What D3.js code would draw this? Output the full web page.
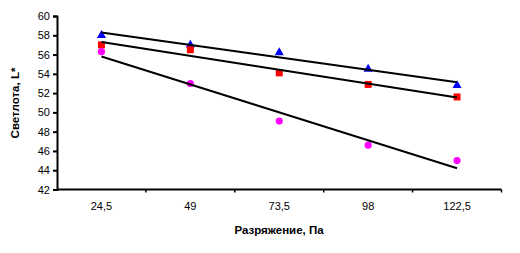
<!DOCTYPE html>
<html><head><meta charset="utf-8">
<script src="https://cdn.jsdelivr.net/npm/d3@7"></script>
<style>body{margin:0;background:#fff}svg{display:block}text{font-family:"Liberation Sans",Arial,sans-serif}</style>
</head><body><svg id="c" width="520" height="253"></svg>
<script>
const categories = ["24,5","49","73,5","98","122,5"];
const blueValues = [58.0, 57.0, 56.2, 54.5, 52.8];
const redValues = [57.0, 56.5, 54.1, 52.9, 51.6];
const magentaValues = [56.3, 53.0, 49.1, 46.6, 45.0];
const yTicks = [42,44,46,48,50,52,54,56,58,60];

const svg = d3.select("#c");
const x = d3.scaleBand().domain(categories).range([57, 501.5]);
const y = d3.scaleLinear().domain([42, 60]).range([189.5, 16]);

// axes
const yAxis = d3.axisLeft(y).tickValues(yTicks).tickSize(4).tickPadding(3);
const gy = svg.append("g").attr("transform","translate(57,0)").call(yAxis);
gy.select(".domain").attr("stroke","#000").attr("stroke-width",2);
gy.selectAll(".tick line").attr("stroke","#000").attr("stroke-width",2);
gy.selectAll("text").attr("font-size",11).attr("fill","#000");

const gx = svg.append("g").attr("transform","translate(0,189.5)");
gx.append("line").attr("x1",57).attr("x2",501.5).attr("y1",0).attr("y2",0).attr("stroke","#000").attr("stroke-width",2);
const bounds = categories.map(c => x(c)).concat([x.range()[1]]).slice(1);
gx.selectAll(".xt").data(bounds).enter().append("line")
  .attr("x1",d=>d).attr("x2",d=>d).attr("y1",0).attr("y2",3).attr("stroke","#000").attr("stroke-width",1.5);
gx.selectAll(".xl").data(categories).enter().append("text")
  .attr("x",d=>x(d)+x.bandwidth()/2).attr("y",20).attr("text-anchor","middle")
  .attr("font-size",11).attr("fill","#000").text(d=>d);

svg.append("text").attr("x",279).attr("y",234).attr("text-anchor","middle")
  .attr("font-size",11.5).attr("font-weight","bold").text("Разряжение, Па");
svg.append("text").attr("transform","translate(19,103) rotate(-90)").attr("text-anchor","middle")
  .attr("font-size",11.5).attr("font-weight","bold").text("Светлота, L*");

const cx = i => x(categories[i]) + x.bandwidth()/2;

function trend(vals){
  const n = vals.length, xs = vals.map((_,i)=>i+1);
  const mx = d3.mean(xs), my = d3.mean(vals);
  const b = d3.sum(xs.map((xi,i)=>(xi-mx)*(vals[i]-my))) / d3.sum(xs.map(xi=>(xi-mx)**2));
  const a = my - b*mx;
  return [[0, a+b*1],[n-1, a+b*n]];
}

const series = [
  {vals: blueValues, color:"#0000FF", sym: d3.symbolTriangle, size: 36},
  {vals: redValues, color:"#FF0000", sym: d3.symbolSquare, size: 49},
  {vals: magentaValues, color:"#FF00FF", sym: d3.symbolCircle, size: 40}
];
series.forEach(s=>{
  svg.append("g").selectAll("path").data(s.vals).enter().append("path")
    .attr("d", d3.symbol().type(s.sym).size(s.size))
    .attr("transform",(d,i)=>`translate(${cx(i)},${y(d)})`)
    .attr("fill", s.color);
});
const line = d3.line().x(d=>cx(d[0])).y(d=>y(d[1]));
series.forEach(s=>{
  svg.append("path").attr("d", line(trend(s.vals))).attr("stroke","#000").attr("stroke-width",2).attr("fill","none");
});
</script></body></html>
